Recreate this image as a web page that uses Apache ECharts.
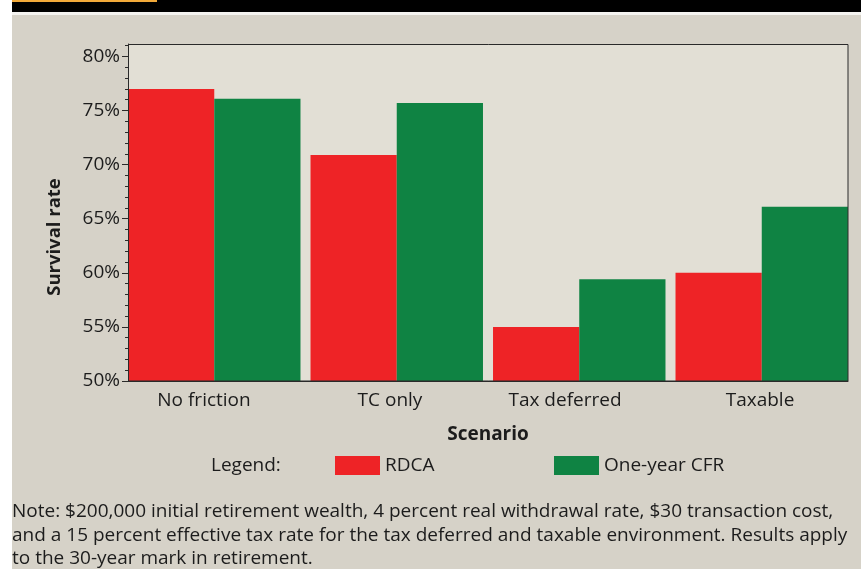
<!DOCTYPE html>
<html>
<head>
<meta charset="utf-8">
<script src="https://cdn.jsdelivr.net/npm/echarts@6/dist/echarts.min.js"></script>
<style>
    html, body { margin: 0; padding: 0; background: #ffffff; }
    #chart { width: 861px; height: 569px; }
</style>
</head>
<body>
<div id="chart"></div>
<script>
const scenarios = ["No friction", "TC only", "Tax deferred", "Taxable"];
const rdca = [77.0, 70.9, 55.0, 60.0];
const oneYearCfr = [76.1, 75.7, 59.4, 66.1];
const majorTicks = [50, 55, 60, 65, 70, 75, 80];
const minorTicks = [50, 51, 52, 53, 54, 55, 56, 57, 58, 59, 60, 61, 62, 63, 64, 65, 66, 67, 68, 69, 70, 71, 72, 73, 74, 75, 76, 77, 78, 79, 80, 81];
const noteLines = [
    "Note: $200,000 initial retirement wealth, 4 percent real withdrawal rate, $30 transaction cost,",
    "and a 15 percent effective tax rate for the tax deferred and taxable environment. Results apply",
    "to the 30-year mark in retirement.",
];

const FONT = "'Open Sans', 'Noto Sans', sans-serif";
const INK = "#1c1c1c";
const RED = "#ee2326";
const GREEN = "#0f8343";
const Y_MIN = 50;
const Y_MAX = 81.15;

// the original labels sit a little off the group centres
const labelPads = [[0, 28, 0, 0], [0, 16, 0, 0], [0, 26, 0, 0], [0, 0, 0, 4]];
const labelRich = {};
labelPads.forEach((pad, i) => {
    labelRich[`c${i}`] = { padding: pad, color: INK, fontSize: 19, fontFamily: FONT };
});

const chart = echarts.init(document.getElementById("chart"), null, { renderer: "canvas" });

const frame = { left: 128, top: 44, width: 720, height: 337 };

chart.setOption({
    backgroundColor: "#d6d2c8",
    animation: false,
    textStyle: { fontFamily: FONT, color: INK },
    grid: [
        { ...frame, show: true, backgroundColor: "#e2dfd5", borderWidth: 0 },
        // bars get their own grid so the groups touch the frame edges
        { left: frame.left - 5, top: frame.top, width: frame.width + 10, height: frame.height },
    ],
    xAxis: [
        {
            type: "category",
            gridIndex: 0,
            data: scenarios,
            z: 5,
            axisLine: { lineStyle: { color: "#2a2a2a", width: 1 } },
            axisTick: { show: false },
            axisLabel: {
                interval: 0,
                hideOverlap: false,
                color: INK,
                fontSize: 19,
                fontFamily: FONT,
                margin: 10,
                formatter: (value, index) => `{c${index}|${value}}`,
                rich: labelRich,
            },
            name: "Scenario",
            nameLocation: "middle",
            nameGap: 44,
            nameTextStyle: { color: INK, fontSize: 19, fontWeight: "bold", fontFamily: FONT },
        },
        { type: "category", gridIndex: 1, data: scenarios, show: false },
    ],
    yAxis: [
        {
            type: "value",
            gridIndex: 0,
            position: "left",
            min: Y_MIN,
            max: Y_MAX,
            z: 5,
            axisLine: { show: true, lineStyle: { color: "#2a2a2a", width: 1 } },
            axisTick: { show: true, length: 6, customValues: majorTicks, lineStyle: { color: "#2a2a2a" } },
            axisLabel: {
                customValues: majorTicks,
                formatter: (v) => `${v}%`,
                color: INK,
                fontSize: 19,
                fontFamily: FONT,
                margin: 8,
            },
            splitLine: { show: false },
        },
        {
            type: "value",
            gridIndex: 0,
            position: "left",
            offset: 0,
            min: Y_MIN,
            max: Y_MAX,
            z: 5,
            axisLine: { show: false },
            axisTick: { show: true, length: 3, customValues: minorTicks, lineStyle: { color: "#2a2a2a" } },
            axisLabel: { show: false },
            splitLine: { show: false },
        },
        { type: "value", gridIndex: 1, min: Y_MIN, max: Y_MAX, show: false },
    ],
    legend: [
        {
            left: 330, top: 451, itemWidth: 45, itemHeight: 19, icon: "rect",
            data: ["RDCA"],
            textStyle: { color: INK, fontSize: 19, fontFamily: FONT },
        },
        {
            left: 549, top: 451, itemWidth: 45, itemHeight: 19, icon: "rect",
            data: ["One-year CFR"],
            textStyle: { color: INK, fontSize: 19, fontFamily: FONT },
        },
    ],
    series: [
        {
            name: "RDCA",
            type: "bar",
            xAxisIndex: 1,
            yAxisIndex: 2,
            data: rdca,
            barGap: "0%",
            barCategoryGap: "5.5%",
            itemStyle: { color: RED },
        },
        {
            name: "One-year CFR",
            type: "bar",
            xAxisIndex: 1,
            yAxisIndex: 2,
            data: oneYearCfr,
            itemStyle: { color: GREEN },
        },
    ],
    graphic: [
        { type: "rect", left: 0, top: 0, shape: { width: 12, height: 569 }, style: { fill: "#ffffff" }, z: 100 },
        { type: "rect", left: 12, top: 0, shape: { width: 849, height: 12 }, style: { fill: "#000000" }, z: 100 },
        { type: "rect", left: 12, top: 0, shape: { width: 145, height: 2 }, style: { fill: "#f2aa3a" }, z: 101 },
        { type: "rect", left: 12, top: 12, shape: { width: 849, height: 3 }, style: { fill: "#f4f3f0" }, z: 100 },
        {
            type: "rect",
            shape: { x: frame.left + 0.5, y: frame.top + 0.5, width: frame.width - 0.5, height: frame.height - 0.5 },
            style: { fill: "none", stroke: "#2a2a2a", lineWidth: 1 },
            z: 50,
        },
        {
            type: "text",
            x: 55,
            y: 237,
            rotation: Math.PI / 2,
            style: {
                text: "Survival rate",
                fill: INK,
                font: `bold 18.5px ${FONT}`,
                textAlign: "center",
                textVerticalAlign: "middle",
            },
        },
        {
            type: "text",
            x: 211,
            y: 466,
            style: { text: "Legend:", fill: INK, font: `19px ${FONT}`, textVerticalAlign: "middle" },
        },
        ...noteLines.map((line, i) => ({
            type: "text",
            x: 12,
            y: 512 + i * 23.5,
            style: { text: line, fill: INK, font: `19px ${FONT}`, textVerticalAlign: "middle" },
        })),
    ],
});
</script>
</body>
</html>
